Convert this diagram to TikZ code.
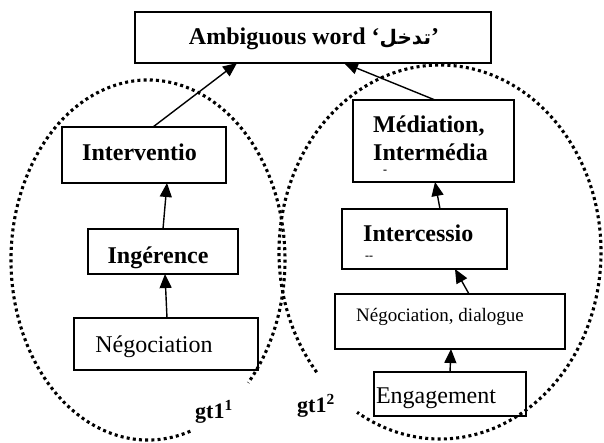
\documentclass[tikz,border=0pt]{standalone}
\usepackage{fontspec}
\setmainfont{Liberation Serif}
\newfontfamily\arabicfont[Script=Arabic]{DejaVu Sans}
\TeXXeTstate=1
\usetikzlibrary{arrows.meta}
\begin{document}
\begin{tikzpicture}[x=1pt,y=-1pt,
  box/.style={draw, line width=1.8pt, inner sep=0pt, outer sep=0pt, anchor=north west},
  arr/.style={line width=1.4pt, -{Triangle[length=14pt,width=12pt]}},
  bt/.style={font=\fontsize{24}{28}\selectfont\bfseries, inner sep=0pt, anchor=base},
  rt/.style={font=\fontsize{24}{28}\selectfont, inner sep=0pt, anchor=base},
  gl/.style={font=\fontsize{22}{26}\selectfont\bfseries, inner sep=0pt, anchor=base west},
  dots/.style={line width=3.1pt, dash pattern=on 3pt off 3.2pt}
]
\useasboundingbox (0,0) rectangle (604,442);
% dotted groups
\draw[dots] ([shift={(72:137 and 180)}]148,260) arc[start angle=72,end angle=403,x radius=137,y radius=180];
\draw[dots] ([shift={(140:161 and 187)}]440,252) arc[start angle=140,end angle=481,x radius=161,y radius=187];
% boxes
\node[box, minimum width=356pt, minimum height=51pt] (top) at (135,12) {};
\node[box, minimum width=164pt, minimum height=56pt] (interv) at (62,127) {};
\node[box, minimum width=150pt, minimum height=45pt] (inger) at (88,229) {};
\node[box, minimum width=184pt, minimum height=52pt] (negoc) at (74,318) {};
\node[box, minimum width=161pt, minimum height=82pt] (medi) at (353,100) {};
\node[box, minimum width=165pt, minimum height=60pt] (inter) at (342,209) {};
\node[box, minimum width=230pt, minimum height=55pt] (dial) at (335,294) {};
\node[box, minimum width=152pt, minimum height=44pt] (engag) at (374,372) {};
% texts
\node[bt] (tTop) at (314,44) {Ambiguous word ‘{\arabicfont\fontsize{20}{24}\selectfont\beginR تدخل\endR}’};
\node[bt] (tInterv) at (139.5,160.5) {Interventio};
\node[bt] (tInger) at (158,263) {Ingérence};
\node[rt] (tNegoc) at (154,352) {Négociation};
\node[bt, anchor=base west] (tMed1) at (373,132) {Médiation,};
\node[bt, anchor=base west] (tMed2) at (373,160) {Intermédia};
\node[font=\fontsize{12}{14}\selectfont\bfseries, inner sep=0pt] (tMed3) at (385,172) {-};
\node[bt, anchor=base west] (tInter) at (363,241.5) {Intercessio};
\node[font=\fontsize{12}{14}\selectfont\bfseries, inner sep=0pt] (tInter2) at (369,258) {-{}-};
\node[font=\fontsize{19}{22}\selectfont, inner sep=0pt, anchor=base] (tDial) at (440,321.5) {Négociation, dialogue};
\node[rt] (tEng) at (436,403) {Engagement};
\node[gl] (g1) at (195,418) {gt1\textsuperscript{1}};
\node[gl] (g2) at (297,412) {gt1\textsuperscript{2}};
% arrows
\draw[arr] ([xshift=9pt]interv.north) -- ([xshift=-76pt]top.south);
\draw[arr] ([xshift=1.5pt]medi.north) -- ([xshift=31pt]top.south);
\draw[arr] (inger.north) -- ([xshift=23pt]interv.south);
\draw[arr] ([xshift=1pt]negoc.north) -- ([xshift=2pt]inger.south);
\draw[arr] ([xshift=15.5pt]inter.north) -- ([xshift=1.5pt]medi.south);
\draw[arr] ([xshift=19pt]dial.north) -- ([xshift=30.5pt]inter.south);
\draw[arr] (engag.north) -- ([xshift=1pt]dial.south);
\end{tikzpicture}
\end{document}
